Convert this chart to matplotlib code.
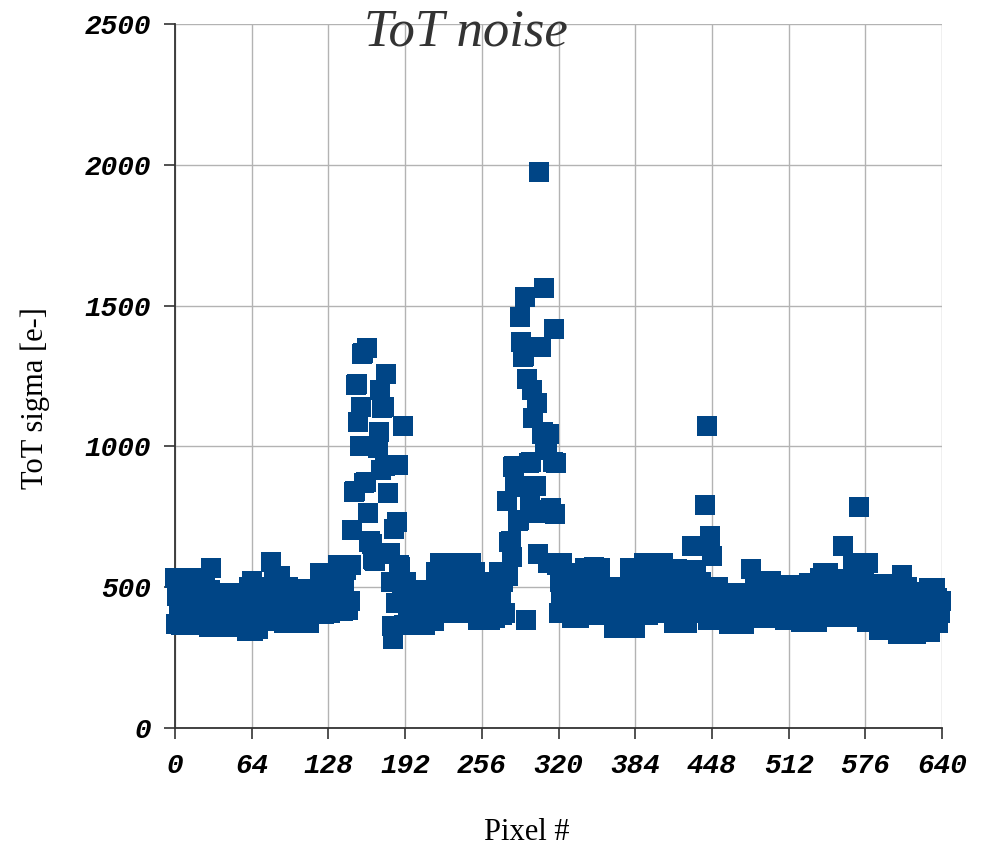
import numpy as np
import matplotlib.pyplot as plt
from matplotlib.font_manager import FontProperties

# ToT sigma per pixel, pixels 0..639 (16 per row)
tot_sigma = [
    532, 370, 470, 430, 505, 366, 450, 490, 400, 532, 380, 460, 420, 500, 366, 445,
    410, 480, 532, 372, 450, 520, 430, 380, 470, 500, 372, 440, 360, 490, 567, 420,
    455, 360, 470, 410, 470, 365, 440, 478, 400, 360, 460, 430, 478, 380, 450, 362,
    420, 478, 365, 450, 470, 400, 360, 440, 470, 410, 380, 455, 345, 430, 500, 400,
    522, 345, 460, 420, 480, 350, 440, 500, 400, 470, 380, 450, 401, 430, 480, 420,
    588, 401, 460, 520, 430, 480, 410, 500, 541, 380, 450, 373, 470, 420, 500, 373,
    440, 410, 480, 373, 455, 493, 420, 380, 470, 440, 493, 373, 430, 460, 400, 480,
    373, 450, 493, 420, 405, 470, 440, 490, 410, 550, 460, 430, 405, 500, 440, 420,
    550, 410, 470, 500, 430, 415, 540, 460, 579, 420, 490, 440, 415, 520, 450, 560,
    420, 579, 450, 579, 703, 838, 840, 1217, 1220, 1087, 1001, 1141, 1328, 1330, 870, 875,
    1349, 763, 660, 665, 655, 600, 595, 593, 1000, 994, 1051, 1200, 916, 1136, 1140, 930,
    1257, 619, 834, 620, 518, 362, 316, 706, 443, 731, 934, 580, 572, 500, 1072, 366,
    450, 519, 400, 366, 470, 430, 490, 380, 455, 366, 420, 480, 440, 370, 490, 410,
    460, 366, 490, 430, 380, 470, 420, 490, 380, 450, 555, 408, 500, 585, 440, 470,
    408, 520, 460, 585, 430, 500, 410, 550, 470, 585, 420, 490, 408, 540, 450, 580,
    430, 500, 585, 408, 470, 540, 420, 585, 460, 410, 555, 480, 430, 383, 520, 450,
    383, 470, 430, 520, 400, 490, 450, 383, 510, 420, 470, 390, 520, 440, 555, 401,
    460, 401, 520, 410, 555, 807, 540, 660, 665, 608, 926, 930, 856, 860, 735, 740,
    1461, 1372, 1319, 1320, 1531, 384, 1240, 940, 804, 945, 1200, 1101, 762, 860, 1155, 619,
    1976, 1353, 1045, 1050, 1563, 987, 990, 586, 1044, 775, 780, 945, 1416, 759, 940, 580,
    408, 520, 460, 585, 430, 490, 408, 540, 450, 420, 550, 390, 480, 440, 550, 400,
    470, 390, 520, 430, 550, 460, 569, 401, 440, 500, 410, 470, 569, 420, 572, 401,
    450, 520, 401, 569, 440, 480, 410, 502, 430, 401, 470, 450, 502, 420, 354, 460,
    420, 500, 354, 460, 480, 380, 440, 502, 354, 430, 470, 410, 569, 360, 470, 440,
    354, 510, 420, 460, 401, 569, 440, 585, 410, 470, 520, 401, 450, 585, 430, 490,
    430, 540, 408, 585, 460, 500, 420, 585, 470, 408, 564, 440, 510, 410, 564, 450,
    374, 500, 440, 564, 410, 480, 374, 520, 450, 420, 470, 374, 540, 430, 490, 646,
    408, 500, 460, 560, 420, 480, 408, 520, 450, 420, 791, 470, 1071, 383, 682, 500,
    611, 440, 383, 470, 420, 500, 383, 478, 440, 400, 470, 383, 450, 420, 368, 478,
    430, 368, 478, 450, 400, 470, 368, 440, 478, 410, 460, 368, 430, 470, 394, 450,
    420, 563, 394, 470, 500, 430, 394, 480, 450, 410, 522, 390, 470, 440, 500, 420,
    390, 522, 450, 500, 410, 470, 390, 440, 500, 420, 460, 390, 480, 383, 500, 430,
    470, 383, 508, 440, 400, 490, 383, 460, 508, 420, 378, 470, 440, 508, 400, 378,
    460, 514, 420, 378, 480, 440, 514, 400, 378, 470, 532, 430, 394, 551, 460, 410,
    480, 551, 394, 440, 500, 420, 394, 470, 530, 410, 460, 430, 395, 646, 470, 420,
    500, 440, 395, 520, 460, 410, 585, 440, 395, 500, 470, 785, 585, 420, 395, 540,
    460, 378, 585, 430, 500, 380, 470, 511, 410, 378, 460, 348, 490, 420, 511, 348,
    440, 511, 400, 348, 470, 488, 420, 460, 348, 480, 430, 334, 500, 460, 400, 543,
    334, 470, 420, 500, 334, 450, 484, 400, 430, 480, 334, 460, 342, 484, 410, 440,
    342, 470, 430, 484, 400, 496, 342, 450, 420, 372, 496, 440, 460, 372, 410, 450,
]
pixel = np.arange(len(tot_sigma))

x_ticks = list(range(0, 641, 64))
y_ticks = [0, 500, 1000, 1500, 2000, 2500]

fig, ax = plt.subplots(figsize=(9.86, 8.48), dpi=100)
fig.subplots_adjust(left=0.1775, right=0.9554, bottom=0.1415, top=0.9717)

ax.scatter(pixel, tot_sigma, marker="s", s=207, color="#004586",
           linewidths=0, clip_on=False, zorder=3)

ax.set_xlim(0, 640)
ax.set_ylim(0, 2500)
ax.set_xticks(x_ticks)
ax.set_yticks(y_ticks)

ax.grid(True, color="#b3b3b3", linewidth=1.0)
ax.set_axisbelow(True)
for side in ["top", "right"]:
    ax.spines[side].set_visible(False)
for side in ["left", "bottom"]:
    ax.spines[side].set_color("#333333")
    ax.spines[side].set_linewidth(1.3)

tick_font = FontProperties(family="Liberation Mono", weight="bold",
                           style="italic", size=20)
ax.tick_params(axis="both", direction="out", length=8, width=1.2,
               color="#333333")
ax.tick_params(axis="y", pad=9)
ax.tick_params(axis="x", pad=10)
for lbl in ax.get_xticklabels() + ax.get_yticklabels():
    lbl.set_fontproperties(tick_font)

fig.text(466 / 986, 1 - 45 / 848, "ToT noise", family="Liberation Serif",
         style="italic", size=38, color="#333333", ha="center", va="baseline")
fig.text(35 / 986, 0.53, "ToT sigma [e-]", family="Liberation Serif",
         size=22, rotation=90, ha="center", va="center")
fig.text(527 / 986, 1 - 832 / 848, "Pixel #", family="Liberation Serif",
         size=22, ha="center", va="center")

fig.savefig("out.png", dpi=100)
